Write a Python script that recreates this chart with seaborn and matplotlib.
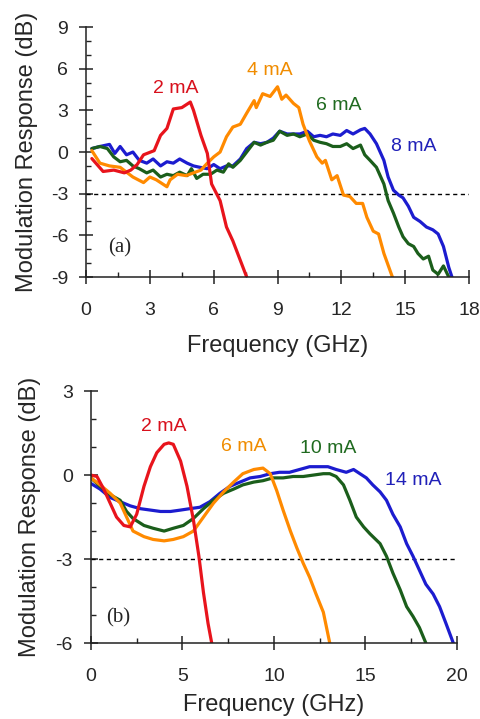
import matplotlib
matplotlib.use("Agg")
import matplotlib.pyplot as plt
from matplotlib.ticker import MultipleLocator
import seaborn as sns
import pandas as pd

# ---- Panel (a): measured modulation response, 2-8 mA ----
a_2mA_f = [0.27, 0.8, 1.3, 1.8, 2.1, 2.4, 2.7, 3.2, 3.5, 3.8, 4.1, 4.5, 4.9, 5.05, 5.4, 5.7,
           5.9, 6.1, 6.3, 6.6, 6.9, 7.2, 7.55]
a_2mA_r = [-0.47, -1.4, -1.3, -1.5, -1.3, -0.9, -0.2, 0.1, 1.2, 1.7, 3.1, 3.2, 3.6, 3.0, 1.2, -0.1,
           -2.3, -2.9, -3.5, -5.4, -6.4, -7.6, -9.0]

a_4mA_f = [0.27, 0.65, 1.1, 1.6, 2.2, 2.7, 3.0, 3.3, 3.8, 3.95, 4.3, 4.7, 5.4, 5.7, 6.0, 6.3,
           6.6, 6.9, 7.25, 7.55, 7.9, 8.0, 8.3, 8.65, 9.0, 9.2, 9.4, 9.75, 10.0, 10.2, 10.5,
           10.85, 11.1, 11.25, 11.55, 11.8, 12.1, 12.4, 12.7, 13.0, 13.2, 13.5, 13.75, 14.0, 14.4]
a_4mA_r = [0.1, -0.8, -1.0, -1.1, -1.8, -2.2, -1.8, -2.0, -2.5, -2.0, -1.6, -1.7, -1.3, -0.8, -0.35, 0.0,
           1.1, 1.8, 2.0, 2.8, 3.7, 3.2, 4.2, 4.0, 4.7, 3.8, 4.1, 3.5, 3.2, 2.0, 0.8,
           -0.35, -0.8, -0.6, -2.0, -1.7, -3.1, -3.2, -3.7, -3.7, -4.7, -5.7, -5.9, -7.3, -9.0]

a_6mA_f = [0.27, 0.65, 1.0, 1.3, 1.6, 1.9, 2.2, 2.5, 2.85, 3.15, 3.5, 3.8, 4.1, 4.4, 4.75, 4.95,
           5.2, 5.5, 5.85, 6.15, 6.45, 6.7, 6.9, 7.25, 7.55, 7.9, 8.2, 8.5, 8.8, 9.1, 9.45,
           9.75, 10.05, 10.4, 10.7, 11.0, 11.3, 11.6, 11.95, 12.25, 12.55, 12.9, 13.1, 13.35,
           13.65, 14.0, 14.2, 14.45, 14.7, 14.9, 15.15, 15.4, 15.6, 15.85, 16.1, 16.3, 16.55,
           16.8, 17.05]
a_6mA_r = [0.25, 0.4, 0.25, -0.35, -0.7, -0.6, -1.0, -1.2, -1.5, -1.3, -1.8, -1.6, -1.7, -1.45, -1.7, -1.2,
           -1.9, -1.6, -1.6, -1.3, -1.45, -0.85, -1.1, -0.6, 0.0, 0.7, 0.5, 0.7, 0.85, 1.5, 1.2,
           1.3, 1.1, 1.3, 0.85, 0.7, 0.6, 0.4, 0.4, 0.6, 0.25, 0.5, -0.2, -0.6,
           -1.1, -2.3, -3.5, -4.4, -5.4, -6.1, -6.6, -6.8, -7.3, -7.7, -7.5, -8.5, -8.8,
           -8.2, -9.0]

a_8mA_f = [0.27, 0.65, 1.1, 1.35, 1.6, 1.9, 2.2, 2.5, 2.85, 3.15, 3.5, 3.8, 4.1, 4.4, 4.75, 5.05,
           5.35, 5.7, 6.0, 6.3, 6.6, 6.9, 7.25, 7.55, 7.9, 8.2, 8.5, 8.8, 9.1, 9.45, 9.75,
           10.05, 10.4, 10.7, 11.0, 11.3, 11.6, 11.95, 12.25, 12.55, 12.9, 13.1, 13.35, 13.65,
           14.0, 14.2, 14.45, 14.7, 14.9, 15.15, 15.4, 15.7, 16.0, 16.3, 16.55, 16.8, 17.05, 17.2]
a_8mA_r = [0.25, 0.4, 0.55, -0.1, 0.4, -0.2, 0.0, -0.6, -0.8, -0.5, -1.0, -0.7, -0.8, -0.5, -0.8, -1.0,
           -1.1, -1.2, -0.9, -1.2, -1.0, -1.0, -0.5, 0.25, 0.7, 0.6, 0.7, 1.0, 1.5, 1.3, 1.3,
           1.3, 1.5, 1.1, 1.2, 1.1, 1.3, 1.2, 1.55, 1.3, 1.6, 1.7, 1.3, 0.6,
           -0.6, -1.8, -2.75, -3.1, -3.3, -3.9, -4.7, -5.0, -5.4, -5.6, -5.9, -6.8, -8.3, -9.0]

# ---- Panel (b): modelled modulation response, 2-14 mA ----
b_2mA_f = [0.0, 0.33, 0.7, 1.05, 1.4, 1.8, 2.15, 2.5, 2.9, 3.25, 3.6, 4.0, 4.25, 4.5, 4.9, 5.25,
           5.6, 5.9, 6.15, 6.4, 6.6]
b_2mA_r = [0.0, -0.05, -0.5, -1.0, -1.5, -1.8, -1.85, -1.4, -0.4, 0.3, 0.8, 1.1, 1.15, 1.1, 0.5, -0.4,
           -1.6, -2.9, -4.2, -5.3, -6.0]

b_6mA_f = [0.0, 0.5, 1.05, 1.6, 1.95, 2.3, 2.9, 3.4, 4.0, 4.5, 5.05, 5.6, 6.15, 6.7, 7.25, 7.8,
           8.3, 8.9, 9.4, 9.8, 10.15, 10.5, 10.9, 11.25, 11.6, 11.95, 12.3, 12.7, 13.05]
b_6mA_r = [-0.1, -0.35, -0.65, -1.0, -1.5, -2.0, -2.2, -2.3, -2.35, -2.3, -2.2, -2.0, -1.5, -1.0, -0.6, -0.25,
           0.05, 0.2, 0.25, 0.05, -0.55, -1.25, -2.0, -2.6, -3.15, -3.65, -4.25, -4.9, -6.0]

b_10mA_f = [0.0, 0.5, 1.05, 1.6, 1.95, 2.3, 2.9, 3.4, 4.0, 4.5, 5.05, 5.6, 6.15, 6.7, 7.25, 7.8,
            8.3, 8.9, 9.4, 9.95, 10.5, 11.05, 11.6, 12.15, 12.7, 13.05, 13.4, 13.8, 14.15, 14.5,
            14.9, 15.25, 15.8, 16.15, 16.5, 16.9, 17.25, 17.6, 17.95, 18.3]
b_10mA_r = [-0.1, -0.4, -0.7, -0.9, -1.3, -1.55, -1.8, -1.9, -2.0, -1.9, -1.8, -1.55, -1.2, -0.9, -0.65, -0.5,
            -0.35, -0.25, -0.2, -0.1, -0.1, -0.05, -0.05, 0.0, 0.05, 0.05, -0.05, -0.35, -0.9, -1.5,
            -1.85, -2.1, -2.45, -2.9, -3.5, -4.1, -4.7, -5.05, -5.45, -6.0]

b_14mA_f = [0.0, 0.5, 1.05, 1.6, 2.15, 2.7, 3.25, 3.8, 4.35, 4.9, 5.4, 5.95, 6.5, 7.05, 7.6, 8.15,
            8.7, 9.25, 9.8, 10.3, 10.85, 11.4, 11.95, 12.5, 12.95, 13.4, 13.95, 14.35, 14.7, 15.05,
            15.4, 15.8, 16.15, 16.5, 16.9, 17.25, 17.6, 17.95, 18.3, 18.7, 19.05, 19.4, 19.8]
b_14mA_r = [-0.3, -0.5, -0.8, -0.95, -1.1, -1.2, -1.25, -1.3, -1.3, -1.25, -1.2, -1.15, -0.95, -0.65, -0.4, -0.25,
            -0.1, -0.05, 0.05, 0.1, 0.1, 0.2, 0.3, 0.3, 0.3, 0.2, 0.1, 0.2, 0.05, -0.1,
            -0.35, -0.6, -0.9, -1.4, -1.85, -2.45, -2.9, -3.4, -3.9, -4.25, -4.7, -5.3, -6.0]

RED, ORANGE, GREEN, BLUE = "#e8141c", "#ff8a00", "#1b5e1b", "#1c1ccf"


def frame(series):
    rows = []
    for name, f, r in series:
        rows += [{"Frequency": x, "Response": y, "Current": name} for x, y in zip(f, r)]
    return pd.DataFrame(rows)


df_a = frame([("2 mA", a_2mA_f, a_2mA_r), ("4 mA", a_4mA_f, a_4mA_r),
              ("6 mA", a_6mA_f, a_6mA_r), ("8 mA", a_8mA_f, a_8mA_r)])
df_b = frame([("2 mA", b_2mA_f, b_2mA_r), ("6 mA", b_6mA_f, b_6mA_r),
              ("10 mA", b_10mA_f, b_10mA_r), ("14 mA", b_14mA_f, b_14mA_r)])

sns.set_style("ticks")
plt.rcParams["font.family"] = ["Liberation Sans", "DejaVu Sans"]
plt.rcParams["axes.linewidth"] = 1.1
plt.rcParams["axes.unicode_minus"] = False

fig = plt.figure(figsize=(4.81, 7.19), dpi=100)
ax_a = fig.add_axes([0.179, 0.6147, 0.796, 0.3477])
ax_b = fig.add_axes([0.189, 0.1057, 0.761, 0.3503])

pal_a = {"2 mA": RED, "4 mA": ORANGE, "6 mA": GREEN, "8 mA": BLUE}
pal_b = {"2 mA": RED, "6 mA": ORANGE, "10 mA": GREEN, "14 mA": BLUE}

sns.lineplot(data=df_a, x="Frequency", y="Response", hue="Current", palette=pal_a,
             hue_order=["8 mA", "6 mA", "4 mA", "2 mA"], sort=False,
             linewidth=2.3, legend=False, ax=ax_a)
sns.lineplot(data=df_b, x="Frequency", y="Response", hue="Current", palette=pal_b,
             hue_order=["14 mA", "10 mA", "6 mA", "2 mA"], sort=False,
             linewidth=2.3, legend=False, ax=ax_b)


def style(ax, xmax, xmaj, xmin, ymin, ymax, ymaj):
    ax.axhline(-3, color="black", lw=1.0, ls=(0, (3, 2.5)), zorder=1)
    ax.set_xlim(0, xmax)
    ax.set_ylim(ymin, ymax)
    ax.xaxis.set_major_locator(MultipleLocator(xmaj))
    ax.xaxis.set_minor_locator(MultipleLocator(xmin))
    ax.yaxis.set_major_locator(MultipleLocator(ymaj))
    ax.yaxis.set_minor_locator(MultipleLocator(1))
    sns.despine(ax=ax)
    ax.spines["left"].set_color("#222222")
    ax.spines["bottom"].set_color("#222222")
    ax.tick_params(which="major", direction="inout", length=10, width=1.1,
                   color="#222222", labelsize=14)
    ax.tick_params(axis="x", which="major", pad=13)
    ax.tick_params(axis="y", which="major", pad=8)
    ax.tick_params(which="minor", direction="in", length=3.5, width=1.0, color="#222222")
    ax.set_xlabel("Frequency (GHz)", fontsize=17)
    ax.set_ylabel("Modulation Response (dB)", fontsize=17)


style(ax_a, 18, 3, 1.5, -9, 9, 3)
style(ax_b, 20, 5, 2.5, -6, 3, 3)
ax_a.yaxis.set_label_coords(-0.125, 0.5)
ax_b.yaxis.set_label_coords(-0.137, 0.5)
ax_a.xaxis.set_label_coords(0.5, -0.232)
ax_b.xaxis.set_label_coords(0.5, -0.202)

lab = dict(fontsize=14, ha="center", va="center")
ax_a.text(4.2, 4.55, "2 mA", color="#d8101c", **lab)
ax_a.text(8.65, 5.9, "4 mA", color="#f08c00", **lab)
ax_a.text(11.9, 3.35, "6 mA", color="#1f6a1f", **lab)
ax_a.text(15.4, 0.4, "8 mA", color="#2020b8", **lab)
ax_a.text(1.6, -6.9, "(a)", family="Liberation Serif", fontsize=15, ha="center", va="center")

ax_b.text(3.96, 1.75, "2 mA", color="#d8101c", **lab)
ax_b.text(8.33, 1.03, "6 mA", color="#f08c00", **lab)
ax_b.text(12.96, 0.95, "10 mA", color="#1f6a1f", **lab)
ax_b.text(17.6, -0.18, "14 mA", color="#2020b8", **lab)
ax_b.text(1.5, -5.1, "(b)", family="Liberation Serif", fontsize=15, ha="center", va="center")

fig.savefig("out.png", dpi=100)
